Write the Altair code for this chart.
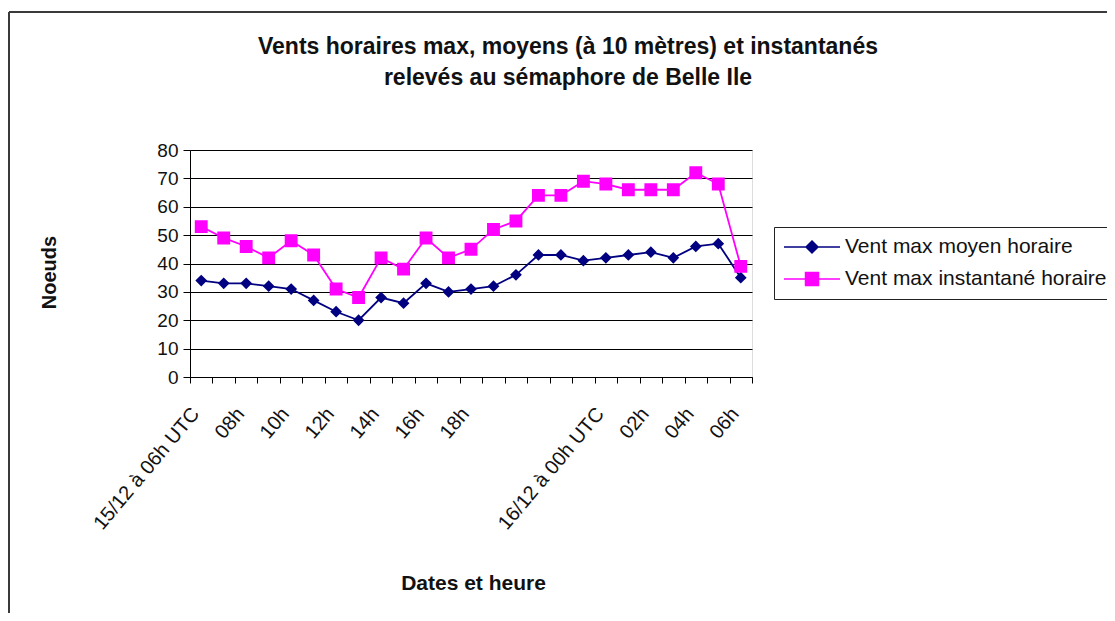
import json
import altair as alt
import pandas as pd

# ---- data ----
categories = [
    "15/12 06h", "15/12 07h", "15/12 08h", "15/12 09h", "15/12 10h", "15/12 11h",
    "15/12 12h", "15/12 13h", "15/12 14h", "15/12 15h", "15/12 16h", "15/12 17h",
    "15/12 18h", "15/12 19h", "15/12 20h", "15/12 21h", "15/12 22h", "15/12 23h",
    "16/12 00h", "16/12 01h", "16/12 02h", "16/12 03h", "16/12 04h", "16/12 05h",
    "16/12 06h",
]
tick_labels = [
    "15/12 à 06h UTC", "", "08h", "", "10h", "", "12h", "", "14h", "", "16h", "",
    "18h", "", "", "", "", "", "16/12 à 00h UTC", "", "02h", "", "04h", "", "06h",
]
series_names = ["Vent max moyen horaire", "Vent max instantané horaire"]
vent_moyen = [34, 33, 33, 32, 31, 27, 23, 20, 28, 26, 33, 30, 31, 32, 36,
              43, 43, 41, 42, 43, 44, 42, 46, 47, 35]
vent_instant = [53, 49, 46, 42, 48, 43, 31, 28, 42, 38, 49, 42, 45, 52, 55,
                64, 64, 69, 68, 66, 66, 66, 72, 68, 39]
series_colors = ["#000080", "#ff00ff"]

rows = []
for name, vals in zip(series_names, [vent_moyen, vent_instant]):
    for c, v in zip(categories, vals):
        rows.append({"cat": c, "series": name, "value": v})
df = pd.DataFrame(rows)

FONT = "Liberation Sans"

# marker paths: horizontal line (only visible when stroked, i.e. in the legend) + marker
diamond = "M-1,0L1,0M0,-0.21L0.21,0L0,0.21L-0.21,0Z"
square = "M-1,0L1,0M-0.23,-0.23L0.23,-0.23L0.23,0.23L-0.23,0.23Z"

label_expr = f"{json.dumps(tick_labels, ensure_ascii=False)}[indexof({json.dumps(categories, ensure_ascii=False)}, datum.value)]"

x_axis = alt.Axis(
    labelExpr=label_expr, labelAngle=-50, labelFontSize=20, labelFont=FONT,
    labelColor="#111", labelPadding=27, labelOffset=-6, labelOverlap=False,
    labelLimit=400, labelBound=False,
    tickBand="extent", tickSize=6, tickColor="#000", domainColor="#000",
    grid=False, title="Dates et heure", titleFont=FONT, titleFontSize=21,
    titleFontWeight="bold", titleColor="#111", titleX=283, titleY=206,
    titleAlign="center", titleBaseline="middle",
)
y_axis = alt.Axis(
    values=list(range(0, 81, 10)), grid=True, gridColor="#000", gridWidth=1,
    domainColor="#000", tickColor="#000", tickSize=7, labelFontSize=19,
    labelFont=FONT, labelColor="#111", labelPadding=5,
    title="Noeuds", titleFont=FONT, titleFontSize=20, titleFontWeight="bold",
    titleColor="#111", titleX=-141, titleY=122, titleAngle=-90,
    titleAlign="center", titleBaseline="middle",
)

color_scale = alt.Scale(domain=series_names, range=series_colors)
shape_scale = alt.Scale(domain=series_names, range=[diamond, square])

legend = alt.Legend(
    title=None, orient="none", legendX=584, legendY=77, direction="vertical",
    padding=9, fillColor="white", strokeColor="#222",
    symbolSize=3136, symbolStrokeWidth=1.6, symbolOffset=0,
    symbolStrokeColor={"expr": "scale('color', datum.value)"},
    symbolFillColor={"expr": "scale('color', datum.value)"},
    symbolOpacity=1,
    labelFontSize=21, labelFont=FONT, labelColor="#111", labelOffset=4,
    labelLimit=400, clipHeight=22, rowPadding=10,
)

base = alt.Chart(df).encode(
    x=alt.X("cat:N", sort=categories, bandPosition=0.5,
            scale=alt.Scale(type="band", paddingInner=0, paddingOuter=0),
            axis=x_axis),
    y=alt.Y("value:Q", scale=alt.Scale(domain=[0, 80], nice=False), axis=y_axis),
    color=alt.Color("series:N", scale=color_scale, legend=legend),
)

lines = base.mark_line(strokeWidth=1.8)
points = base.mark_point(filled=True, opacity=1, size=3136).encode(
    shape=alt.Shape("series:N", scale=shape_scale, legend=legend),
)

frame_df = pd.DataFrame({"k": [0]})
frame_left = alt.Chart(frame_df).mark_rule(color="#3a3a3a", strokeWidth=2).encode(
    x=alt.value(-181), y=alt.value(-138), y2=alt.value(480)
)
frame_top = alt.Chart(frame_df).mark_rule(color="#3a3a3a", strokeWidth=2).encode(
    x=alt.value(-181), x2=alt.value(960), y=alt.value(-138)
)

chart = alt.layer(frame_left, frame_top, lines, points).properties(
    width=562, height=227,
    autosize=alt.AutoSizeParams(type="none"),
    padding={"left": 182, "top": 142, "right": 355, "bottom": 236},
    title=alt.TitleParams(
        text=["Vents horaires max, moyens (à 10 mètres) et instantanés",
              "relevés au sémaphore de Belle Ile"],
        font=FONT, fontSize=23, fontWeight="bold", color="#111",
        anchor="middle", dx=97, lineHeight=31, offset=-79,
    ),
).configure_view(
    fill="#c0c0c0", stroke="#808080", strokeWidth=1
).configure(background="white")

chart.save("out.html", embed_options={"renderer": "svg", "actions": False})
